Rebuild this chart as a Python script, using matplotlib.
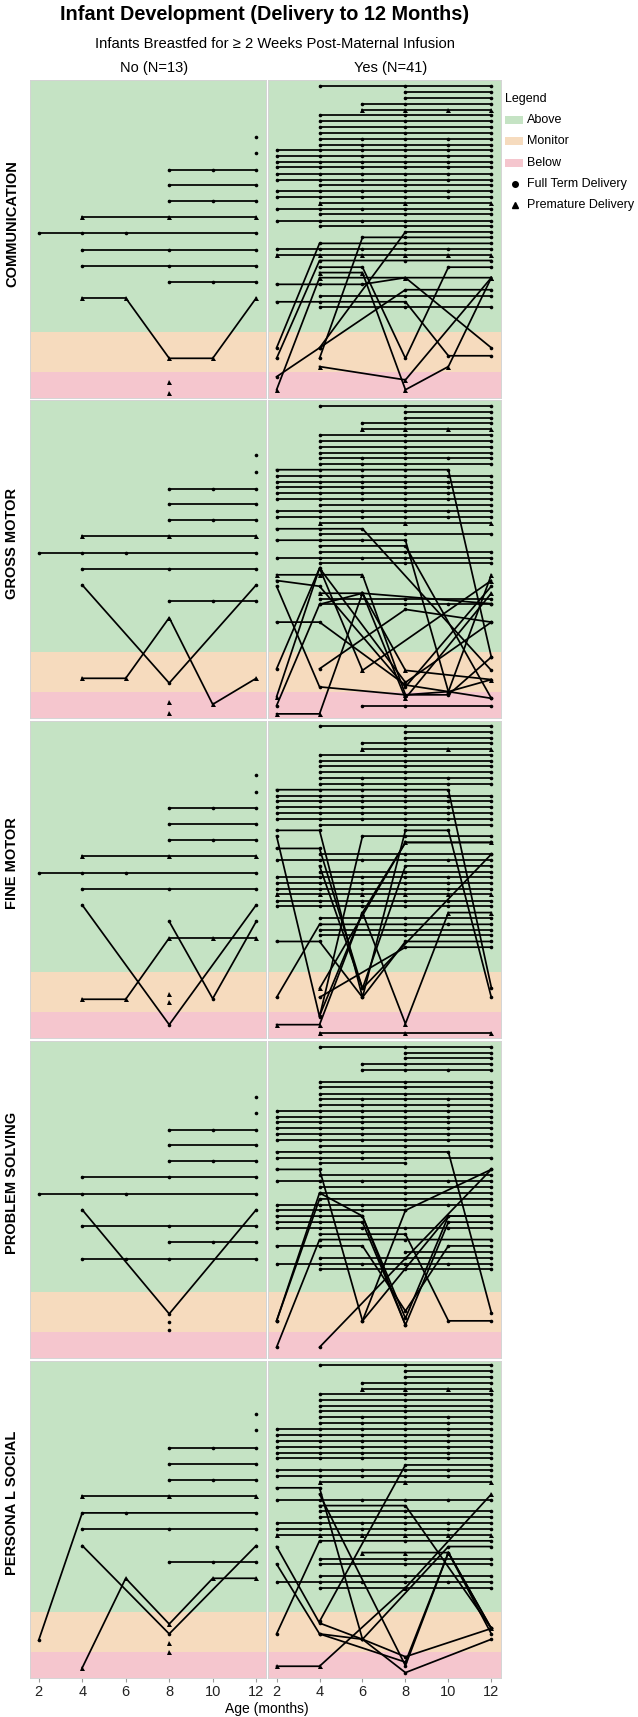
import matplotlib
matplotlib.use("Agg")
import matplotlib.pyplot as plt
from matplotlib.patches import Rectangle
from matplotlib.lines import Line2D

plt.rcParams["font.family"] = ["Liberation Sans", "DejaVu Sans"]

# ---- data -------------------------------------------------------------
MONTHS = [2, 4, 6, 8, 10, 12]
DOMAINS = ["COMMUNICATION", "GROSS MOTOR", "FINE MOTOR", "PROBLEM SOLVING", "PERSONA L SOCIAL"]
GROUPS = ["No (N=13)", "Yes (N=41)"]

BAND_NAMES = ["Above", "Monitor", "Below"]
BAND_LOW = [20.7, 8.3, 0.0]
BAND_HIGH = [100.0, 20.7, 8.3]
BAND_COLORS = ["#c5e3c4", "#f6dbbe", "#f5c6ce"]

# each infant: (delivery marker, months assessed, score position)
COMM_NO = [
    ("o", [12], [82.3]),
    ("o", [12], [77.2]),
    ("o", [8, 10, 12], [71.9, 71.9, 71.9]),
    ("o", [8, 12], [67.2, 67.2]),
    ("o", [8, 10, 12], [62.0, 62.0, 62.0]),
    ("^", [4, 8, 12], [56.9, 56.9, 56.9]),
    ("o", [2, 4, 6, 12], [51.9, 51.9, 51.9, 51.9]),
    ("o", [4, 8, 12], [46.7, 46.7, 46.7]),
    ("o", [4, 8, 12], [41.6, 41.6, 41.6]),
    ("o", [8, 10, 12], [36.6, 36.6, 36.6]),
    ("^", [4, 6, 8, 10, 12], [31.5, 31.5, 12.5, 12.5, 31.5]),
    ("^", [8], [5.0]),
    ("^", [8], [1.6]),
]
GROSS_NO = [
    ("o", [12], [82.7]),
    ("o", [12], [77.5]),
    ("o", [8, 10, 12], [72.1, 72.1, 72.1]),
    ("o", [8, 12], [67.4, 67.4]),
    ("o", [8, 10, 12], [62.3, 62.3, 62.3]),
    ("^", [4, 8, 12], [57.2, 57.2, 57.2]),
    ("o", [2, 4, 6, 12], [52.1, 52.1, 52.1, 52.1]),
    ("o", [4, 8, 12], [47.0, 47.0, 47.0]),
    ("o", [4, 8, 12], [41.9, 11.0, 41.9]),
    ("o", [8, 10, 12], [36.8, 36.8, 36.8]),
    ("^", [4, 6, 8, 10, 12], [12.5, 12.5, 31.6, 4.3, 12.5]),
    ("^", [8], [4.9]),
    ("^", [8], [1.7]),
]
FINE_NO = [
    ("o", [12], [82.8]),
    ("o", [12], [77.6]),
    ("o", [8, 10, 12], [72.3, 72.3, 72.3]),
    ("o", [8, 12], [67.4, 67.4]),
    ("o", [8, 10, 12], [62.3, 62.3, 62.3]),
    ("^", [4, 8, 12], [57.2, 57.2, 57.2]),
    ("o", [2, 4, 6, 12], [52.0, 52.0, 52.0, 52.0]),
    ("o", [4, 8, 12], [46.9, 46.9, 46.9]),
    ("o", [4, 8, 12], [41.9, 4.2, 41.9]),
    ("o", [8, 10, 12], [36.7, 12.4, 36.7]),
    ("^", [4, 6, 8, 10, 12], [12.2, 12.2, 31.5, 31.5, 31.5]),
    ("^", [8], [13.9]),
    ("^", [8], [11.4]),
]
PROB_NO = [
    ("o", [12], [82.3]),
    ("o", [12], [77.2]),
    ("o", [8, 10, 12], [71.9, 71.9, 71.9]),
    ("o", [8, 12], [67.0, 67.0]),
    ("o", [8, 10, 12], [61.9, 61.9, 61.9]),
    ("o", [4, 8, 12], [56.9, 56.9, 56.9]),
    ("o", [2, 4, 6, 12], [51.7, 51.7, 51.7, 51.7]),
    ("o", [4, 8, 12], [46.7, 13.9, 46.7]),
    ("o", [4, 8, 12], [41.5, 41.5, 41.5]),
    ("o", [8, 10, 12], [36.4, 36.4, 36.4]),
    ("o", [4, 6, 8, 12], [31.2, 31.2, 31.2, 31.2]),
    ("o", [8], [11.4]),
    ("o", [8], [8.8]),
]
PERS_NO = [
    ("o", [12], [83.3]),
    ("o", [12], [78.0]),
    ("o", [8, 10, 12], [72.5, 72.5, 72.5]),
    ("o", [8, 12], [67.5, 67.5]),
    ("o", [8, 10, 12], [62.3, 62.3, 62.3]),
    ("^", [4, 8, 12], [57.3, 57.3, 57.3]),
    ("o", [2, 4, 6, 12], [11.9, 52.0, 52.0, 52.0]),
    ("o", [4, 8, 12], [46.9, 46.9, 46.9]),
    ("o", [4, 8, 12], [41.7, 13.9, 41.7]),
    ("o", [8, 10, 12], [36.4, 36.4, 36.4]),
    ("^", [4, 6, 8, 10, 12], [3.2, 31.4, 17.0, 31.4, 31.4]),
    ("^", [8], [11.0]),
    ("^", [8], [8.2]),
]

COMM_YES = [
    ("o", [4, 8, 12], [98.3, 98.3, 98.3]),
    ("o", [8, 12], [96.3, 96.3]),
    ("o", [8, 12], [94.4, 94.4]),
    ("o", [6, 8, 12], [92.6, 92.6, 92.6]),
    ("^", [6, 8, 10, 12], [90.8, 90.8, 90.8, 90.8]),
    ("o", [4, 8, 12], [89.0, 89.0, 89.0]),
    ("o", [4, 8, 12], [87.1, 87.1, 87.1]),
    ("o", [4, 8, 12], [85.3, 85.3, 85.3]),
    ("o", [4, 8, 12], [83.4, 83.4, 83.4]),
    ("o", [4, 6, 8, 10, 12], [81.6, 81.6, 81.6, 81.6, 81.6]),
    ("o", [4, 6, 8, 10, 12], [79.8, 79.8, 79.8, 79.8, 79.8]),
    ("o", [2, 4, 6, 8, 10, 12], [78.1, 78.1, 78.1, 78.1, 78.1, 78.1]),
    ("o", [2, 4, 6, 8, 10, 12], [76.2, 76.2, 76.2, 76.2, 76.2, 76.2]),
    ("o", [2, 4, 6, 8, 10, 12], [74.4, 74.4, 74.4, 74.4, 74.4, 74.4]),
    ("o", [2, 4, 6, 8, 10, 12], [72.6, 72.6, 72.6, 72.6, 72.6, 72.6]),
    ("o", [2, 4, 6, 8, 10, 12], [70.7, 70.7, 70.7, 70.7, 70.7, 70.7]),
    ("o", [2, 4, 6, 8, 10, 12], [68.8, 68.8, 68.8, 68.8, 68.8, 68.8]),
    ("o", [4, 8, 12], [67.0, 67.0, 67.0]),
    ("o", [2, 4, 6, 8, 10, 12], [65.1, 65.1, 65.1, 65.1, 65.1, 65.1]),
    ("o", [2, 4, 6, 8, 10, 12], [63.3, 63.3, 63.3, 63.3, 63.3, 63.3]),
    ("^", [4, 8, 12], [61.5, 61.5, 61.5]),
    ("o", [2, 4, 6, 8, 12], [59.6, 59.6, 59.6, 59.6, 59.6]),
    ("o", [4, 8, 12], [57.8, 57.8, 57.8]),
    ("o", [2, 4, 6, 8, 12], [55.9, 55.9, 55.9, 55.9, 55.9]),
    ("o", [4, 8, 12], [54.1, 54.1, 54.1]),
    ("o", [4, 8, 12], [15.8, 52.3, 52.3]),
    ("o", [4, 6, 8, 12], [12.5, 50.6, 50.6, 50.6]),
    ("o", [2, 4, 8, 12], [15.8, 48.7, 48.7, 48.7]),
    ("o", [2, 4, 6, 8, 10, 12], [46.9, 46.9, 46.9, 46.9, 46.9, 46.9]),
    ("^", [2, 4, 6, 8, 10, 12], [45.1, 45.1, 45.1, 45.1, 45.1, 45.1]),
    ("o", [2, 4, 8, 12], [12.5, 43.3, 43.3, 43.3]),
    ("o", [4, 6, 8, 10, 12], [41.2, 41.2, 12.5, 41.2, 41.2]),
    ("^", [4, 6, 8, 10, 12], [39.5, 39.5, 2.6, 9.9, 37.9]),
    ("o", [2, 4, 6, 8, 12], [35.8, 35.8, 35.8, 37.9, 15.8]),
    ("o", [4, 8, 12], [32.2, 32.2, 32.2]),
    ("o", [2, 4, 8, 10, 12], [30.3, 30.3, 30.3, 13.3, 13.3]),
    ("o", [4, 8, 12], [28.6, 28.6, 28.6]),
    ("o", [2, 4, 8, 12], [6.7, 15.8, 34.1, 34.1]),
    ("^", [2, 4, 8, 12], [2.6, 37.9, 37.9, 37.9]),
    ("^", [4, 8, 12], [9.9, 5.7, 37.9]),
]
GROSS_YES = [
    ("o", [4, 8, 12], [98.4, 98.4, 98.4]),
    ("o", [8, 12], [96.4, 96.4]),
    ("o", [8, 12], [94.6, 94.6]),
    ("o", [6, 8, 12], [93.0, 93.0, 93.0]),
    ("^", [6, 8, 10, 12], [90.9, 90.9, 90.9, 90.9]),
    ("o", [4, 8, 12], [89.1, 89.1, 89.1]),
    ("o", [4, 8, 12], [87.4, 87.4, 87.4]),
    ("o", [4, 8, 12], [85.5, 85.5, 85.5]),
    ("o", [4, 8, 12], [83.6, 83.6, 83.6]),
    ("o", [4, 6, 8, 10, 12], [81.8, 81.8, 81.8, 81.8, 81.8]),
    ("o", [4, 6, 8, 12], [80.0, 80.0, 80.0, 80.0]),
    ("o", [2, 4, 6, 8, 10, 12], [78.2, 78.2, 78.2, 78.2, 78.2, 19.2]),
    ("o", [2, 4, 6, 8, 10, 12], [76.2, 76.2, 76.2, 76.2, 76.2, 76.2]),
    ("o", [2, 4, 6, 8, 10, 12], [74.4, 74.4, 74.4, 74.4, 74.4, 74.4]),
    ("o", [2, 4, 6, 8, 10, 12], [72.7, 72.7, 72.7, 72.7, 72.7, 72.7]),
    ("o", [2, 4, 6, 8, 10, 12], [70.8, 70.8, 70.8, 70.8, 70.8, 70.8]),
    ("o", [2, 4, 6, 8, 10, 12], [68.9, 68.9, 68.9, 68.9, 68.9, 68.9]),
    ("o", [4, 8, 12], [67.0, 67.0, 67.0]),
    ("o", [2, 4, 6, 8, 10, 12], [65.3, 65.3, 65.3, 65.3, 65.3, 65.3]),
    ("o", [2, 4, 6, 8, 10, 12], [63.4, 63.4, 63.4, 63.4, 63.4, 63.4]),
    ("^", [4, 8, 12], [61.5, 61.5, 61.5]),
    ("o", [2, 4, 6, 12], [59.6, 59.6, 59.6, 15.0]),
    ("o", [4, 8, 12], [57.8, 57.8, 57.8]),
    ("o", [2, 4, 6, 8, 10, 12], [56.0, 56.0, 56.0, 56.0, 8.3, 12.1]),
    ("o", [4, 8, 12], [54.2, 54.2, 6.2]),
    ("o", [4, 8, 12], [52.3, 52.3, 52.3]),
    ("o", [2, 4, 6, 8, 12], [50.5, 50.5, 50.5, 50.5, 50.5]),
    ("o", [4, 8, 12], [48.7, 48.7, 48.7]),
    ("^", [2, 4, 6, 8, 10, 12], [45.1, 45.1, 45.1, 7.3, 8.3, 45.1]),
    ("o", [2, 4, 8, 12], [43.3, 41.5, 9.8, 41.5]),
    ("o", [2, 4, 8, 10, 12], [41.5, 9.8, 7.3, 7.3, 19.2]),
    ("^", [4, 6, 8, 12], [39.3, 39.3, 6.2, 39.3]),
    ("o", [4, 8, 12], [37.6, 37.6, 37.6]),
    ("o", [4, 8, 10, 12], [35.8, 35.8, 35.8, 35.8]),
    ("o", [2, 4, 8, 12], [30.2, 30.2, 10.4, 6.2]),
    ("o", [2, 4, 8, 12], [15.5, 47.2, 11.2, 30.2]),
    ("^", [2, 4, 6, 12], [6.7, 47.2, 15.0, 43.3]),
    ("o", [2, 4, 6, 12], [3.9, 35.8, 39.3, 36.0]),
    ("^", [2, 4, 6, 8, 12], [1.3, 1.3, 39.3, 15.0, 12.1]),
    ("o", [4, 8, 12], [15.5, 34.2, 30.2]),
    ("o", [6, 8, 12], [3.8, 3.8, 3.8]),
]
FINE_YES = [
    ("o", [4, 8, 12], [98.3, 98.3, 98.3]),
    ("o", [8, 12], [96.4, 96.4]),
    ("o", [8, 12], [94.6, 94.6]),
    ("o", [6, 8, 12], [92.8, 92.8, 92.8]),
    ("^", [6, 8, 10, 12], [90.9, 90.9, 90.9, 90.9]),
    ("o", [4, 8, 12], [89.2, 89.2, 89.2]),
    ("o", [4, 8, 12], [87.3, 87.3, 87.3]),
    ("o", [4, 8, 12], [85.6, 85.6, 85.6]),
    ("o", [4, 8, 12], [83.7, 83.7, 83.7]),
    ("o", [4, 6, 8, 10, 12], [81.8, 81.8, 81.8, 81.8, 81.8]),
    ("o", [4, 6, 8, 10, 12], [80.1, 80.1, 80.1, 80.1, 80.1]),
    ("o", [2, 4, 6, 8, 10, 12], [78.2, 78.2, 78.2, 78.2, 78.2, 15.9]),
    ("o", [2, 4, 6, 8, 10, 12], [76.3, 76.3, 76.3, 76.3, 76.3, 76.3]),
    ("o", [2, 4, 6, 8, 10, 12], [74.5, 74.5, 74.5, 74.5, 74.5, 74.5]),
    ("o", [2, 4, 6, 8, 10, 12], [72.7, 72.7, 72.7, 72.7, 72.7, 72.7]),
    ("o", [2, 4, 6, 8, 10, 12], [70.8, 70.8, 70.8, 70.8, 70.8, 70.8]),
    ("o", [2, 4, 6, 8, 10, 12], [69.0, 69.0, 69.0, 69.0, 69.0, 69.0]),
    ("o", [4, 8, 12], [67.2, 67.2, 67.2]),
    ("o", [2, 4, 6, 8, 10, 12], [65.4, 65.4, 12.8, 65.4, 65.4, 12.8]),
    ("o", [2, 4, 6, 8, 12], [63.6, 6.7, 63.6, 63.6, 63.6]),
    ("^", [4, 8, 12], [15.6, 61.6, 61.6]),
    ("o", [2, 4, 6, 12], [59.7, 59.7, 15.6, 57.9]),
    ("o", [4, 8, 12], [57.9, 57.9, 57.9]),
    ("o", [2, 4, 6, 8, 10, 12], [56.1, 56.1, 56.1, 56.1, 56.1, 56.1]),
    ("o", [4, 6, 8, 12], [54.2, 15.6, 54.2, 54.2]),
    ("o", [4, 8, 12], [52.4, 52.4, 52.4]),
    ("o", [2, 4, 6, 8, 10, 12], [50.7, 50.7, 50.7, 50.7, 50.7, 50.7]),
    ("o", [2, 4, 6, 8, 10, 12], [48.8, 48.8, 48.8, 48.8, 48.8, 48.8]),
    ("o", [2, 4, 6, 8, 10, 12], [46.9, 46.9, 46.9, 46.9, 46.9, 46.9]),
    ("^", [2, 4, 6, 8, 10, 12], [45.2, 45.2, 45.2, 45.2, 45.2, 45.2]),
    ("o", [2, 4, 6, 8, 10, 12], [43.3, 43.3, 43.3, 43.3, 43.3, 43.3]),
    ("o", [2, 4, 6, 8, 10, 12], [41.5, 41.5, 41.5, 41.5, 41.5, 41.5]),
    ("o", [4, 8, 12], [37.7, 37.7, 37.7]),
    ("o", [4, 8, 12], [34.1, 34.1, 34.1]),
    ("o", [4, 8, 12], [32.3, 32.3, 32.3]),
    ("o", [2, 4, 6, 8, 12], [30.4, 30.4, 12.8, 30.4, 30.4]),
    ("o", [4, 8, 12], [12.8, 28.6, 28.6]),
    ("o", [2, 4, 8, 10, 12], [12.8, 35.8, 35.8, 35.8, 35.8]),
    ("^", [2, 4, 6, 8, 10, 12], [4.2, 4.2, 39.5, 4.5, 39.5, 39.5]),
    ("^", [4, 8, 12], [1.6, 1.6, 1.6]),
    ("o", [4, 6, 8, 12], [7.0, 39.5, 61.6, 61.6]),
]
PROB_YES = [
    ("o", [4, 8, 12], [98.1, 98.1, 98.1]),
    ("o", [8, 12], [96.2, 96.2]),
    ("o", [8, 12], [94.4, 94.4]),
    ("o", [6, 8, 12], [92.6, 92.6, 92.6]),
    ("o", [6, 8, 10, 12], [90.7, 90.7, 90.7, 90.7]),
    ("o", [4, 8, 12], [87.0, 87.0, 87.0]),
    ("o", [4, 8, 12], [85.2, 85.2, 85.2]),
    ("o", [4, 8, 12], [83.3, 83.3, 83.3]),
    ("o", [4, 6, 8, 10, 12], [81.5, 81.5, 81.5, 81.5, 81.5]),
    ("o", [4, 6, 8, 10, 12], [79.6, 79.6, 79.6, 79.6, 79.6]),
    ("o", [2, 4, 6, 8, 10, 12], [77.9, 77.9, 77.9, 77.9, 77.9, 77.9]),
    ("o", [2, 4, 6, 8, 10, 12], [76.0, 76.0, 76.0, 76.0, 76.0, 76.0]),
    ("o", [2, 4, 6, 8, 10, 12], [74.2, 74.2, 74.2, 74.2, 74.2, 74.2]),
    ("o", [2, 4, 6, 8, 10, 12], [72.3, 72.3, 72.3, 72.3, 72.3, 72.3]),
    ("o", [2, 4, 6, 8, 10, 12], [70.5, 70.5, 70.5, 70.5, 70.5, 70.5]),
    ("o", [2, 4, 6, 8, 10, 12], [68.6, 68.6, 68.6, 68.6, 68.6, 68.6]),
    ("o", [4, 8, 12], [66.7, 66.7, 66.7]),
    ("o", [2, 4, 6, 8, 10, 12], [64.9, 64.9, 64.9, 64.9, 64.9, 14.3]),
    ("o", [2, 4, 6, 8, 12], [63.0, 63.0, 63.0, 63.0, 63.0]),
    ("o", [4, 8], [61.3, 61.3]),
    ("o", [2, 4, 6, 10, 12], [59.4, 59.4, 11.7, 44.7, 44.7]),
    ("o", [4, 8, 12], [57.6, 57.6, 57.6]),
    ("o", [2, 4, 6, 8, 10, 12], [55.7, 55.7, 55.7, 55.7, 55.7, 55.7]),
    ("o", [4, 8, 12], [53.9, 53.9, 53.9]),
    ("o", [4, 8, 12], [52.0, 52.0, 52.0]),
    ("o", [2, 4, 8, 12], [11.7, 50.1, 50.1, 50.1]),
    ("o", [2, 4, 6, 8, 10, 12], [48.3, 48.3, 48.3, 48.3, 48.3, 48.3]),
    ("o", [2, 4, 6, 8], [46.5, 46.5, 46.5, 46.5]),
    ("o", [2, 4, 6, 8, 10, 12], [44.7, 44.7, 44.7, 12.5, 44.7, 44.7]),
    ("o", [2, 4, 6, 8, 10, 12], [42.8, 42.8, 42.8, 10.4, 42.8, 42.8]),
    ("o", [2, 4, 6, 8, 10, 12], [40.9, 40.9, 40.9, 40.9, 40.9, 40.9]),
    ("o", [4, 8, 10, 12], [39.0, 39.0, 11.7, 11.7]),
    ("o", [2, 4, 8, 12], [3.4, 37.3, 37.3, 37.3]),
    ("o", [2, 4, 6, 8, 10, 12], [35.3, 35.3, 35.3, 14.8, 35.3, 35.3]),
    ("o", [8, 12], [33.4, 33.4]),
    ("o", [4, 8, 12], [31.5, 31.5, 31.5]),
    ("o", [2, 4, 6, 8, 10, 12], [29.7, 29.7, 29.7, 29.7, 29.7, 29.7]),
    ("o", [4, 8, 12], [28.0, 28.0, 28.0]),
    ("o", [4, 12], [3.4, 59.4]),
    ("o", [2, 4, 6, 8], [11.7, 52.0, 44.7, 10.4]),
    ("o", [6, 8, 12], [11.7, 46.5, 59.4]),
]
PERS_YES = [
    ("o", [4, 8, 12], [98.6, 98.6, 98.6]),
    ("o", [8, 12], [96.6, 96.6]),
    ("o", [8, 12], [94.8, 94.8]),
    ("o", [6, 8, 12], [93.0, 93.0, 93.0]),
    ("^", [6, 8, 10, 12], [91.1, 91.1, 91.1, 91.1]),
    ("o", [4, 8, 12], [89.4, 89.4, 89.4]),
    ("o", [4, 8, 12], [87.6, 87.6, 87.6]),
    ("o", [4, 8, 12], [85.8, 85.8, 85.8]),
    ("o", [4, 8, 12], [84.0, 84.0, 84.0]),
    ("o", [4, 6, 8, 10, 12], [82.1, 82.1, 82.1, 82.1, 82.1]),
    ("o", [4, 6, 8, 10, 12], [80.3, 80.3, 80.3, 80.3, 80.3]),
    ("o", [2, 4, 6, 8, 10, 12], [78.5, 78.5, 78.5, 78.5, 78.5, 78.5]),
    ("o", [2, 4, 6, 8, 10, 12], [76.6, 76.6, 76.6, 76.6, 76.6, 76.6]),
    ("o", [2, 4, 6, 8, 10, 12], [74.8, 74.8, 74.8, 74.8, 74.8, 74.8]),
    ("o", [2, 4, 6, 8, 10, 12], [72.9, 72.9, 72.9, 72.9, 72.9, 72.9]),
    ("o", [2, 4, 6, 8, 10, 12], [71.0, 71.0, 71.0, 71.0, 71.0, 71.0]),
    ("o", [2, 4, 6, 8, 10, 12], [69.3, 69.3, 69.3, 69.3, 69.3, 69.3]),
    ("o", [4, 8, 12], [17.8, 67.1, 67.1]),
    ("o", [2, 4, 6, 8, 10, 12], [65.5, 65.5, 65.5, 65.5, 65.5, 65.5]),
    ("o", [2, 4, 6, 8, 10, 12], [63.7, 63.7, 63.7, 63.7, 63.7, 63.7]),
    ("^", [4, 8, 12], [61.8, 61.8, 61.8]),
    ("o", [2, 4, 6, 10, 12], [59.9, 59.9, 12.2, 41.4, 41.4]),
    ("o", [4, 8, 10, 12], [57.9, 3.9, 39.5, 15.6]),
    ("o", [2, 4, 6, 8, 10, 12], [56.1, 56.1, 56.1, 56.1, 56.1, 56.1]),
    ("o", [4, 8, 12], [54.3, 54.3, 15.6]),
    ("o", [4, 8, 12], [52.6, 52.6, 52.6]),
    ("o", [4, 8, 12], [50.7, 50.7, 50.7]),
    ("o", [2, 4, 6, 8, 10, 12], [48.8, 48.8, 48.8, 48.8, 48.8, 48.8]),
    ("o", [2, 4, 6, 8, 10, 12], [47.0, 47.0, 47.0, 47.0, 47.0, 47.0]),
    ("^", [2, 4, 6, 8, 10, 12], [45.1, 45.1, 45.1, 45.1, 45.1, 45.1]),
    ("o", [2, 4, 8, 12], [13.9, 43.2, 43.2, 43.2]),
    ("^", [6, 8, 10, 12], [39.5, 39.5, 39.5, 15.6]),
    ("o", [4, 8, 12], [37.6, 37.6, 37.6]),
    ("o", [4, 8, 12], [35.9, 35.9, 35.9]),
    ("o", [4, 8, 12], [32.1, 32.1, 32.1]),
    ("o", [2, 4, 6, 8, 10, 12], [30.3, 30.3, 30.3, 30.3, 30.3, 30.3]),
    ("o", [4, 8, 12], [28.4, 28.4, 28.4]),
    ("o", [2, 4, 6, 8, 12], [41.4, 17.3, 12.2, 6.7, 15.6]),
    ("o", [2, 4, 8, 10, 12], [35.9, 13.9, 5.0, 39.5, 13.9]),
    ("^", [2, 4, 8, 12], [3.7, 3.7, 28.4, 57.9]),
    ("o", [4, 6, 8, 12], [13.9, 12.2, 1.7, 12.2]),
]

PANELS = [
    (COMM_NO, COMM_YES),
    (GROSS_NO, GROSS_YES),
    (FINE_NO, FINE_YES),
    (PROB_NO, PROB_YES),
    (PERS_NO, PERS_YES),
]

# ---- layout (pixels) ----------------------------------------------------
W, H = 638, 1717
PANEL_X = [(30, 266), (268, 501)]
TOP, ROW_H, GAP = 80.5, 317.5, 2.5


def fx(x):
    return x / W


def fy(y):
    return 1 - y / H


fig = plt.figure(figsize=(W / 100, H / 100), dpi=100)

for r, (domain, pair) in enumerate(zip(DOMAINS, PANELS)):
    y0 = TOP + r * (ROW_H + GAP)
    for c, series in enumerate(pair):
        x0, x1 = PANEL_X[c]
        ax = fig.add_axes([fx(x0), fy(y0 + ROW_H), (x1 - x0) / W, ROW_H / H])
        ax.set_xlim(1.6, 12.45)
        ax.set_ylim(0, 100)
        for lo, hi, col in zip(BAND_LOW, BAND_HIGH, BAND_COLORS):
            ax.axhspan(lo, hi, color=col, lw=0, zorder=0)
        for mk, months, vals in series:
            ax.plot(months, vals, color="black", lw=1.25, marker=mk,
                    ms=3.6 if mk == "^" else 2.6, mew=0, clip_on=False, zorder=3)
        for s in ax.spines.values():
            s.set_color("#d4d4d4")
            s.set_linewidth(0.7)
        ax.set_yticks([])
        ax.set_xticks(MONTHS)
        if r == len(DOMAINS) - 1:
            ax.tick_params(axis="x", length=3, color="#9a9a9a", labelsize=10.5,
                           labelcolor="#222222", pad=2)
        else:
            ax.tick_params(axis="x", length=0, labelbottom=False)
    fig.text(fx(12), fy(y0 + ROW_H / 2 - 16), domain, rotation=90, fontsize=10.5,
             fontweight="bold", ha="center", va="center")

# titles
fig.text(fx(265), fy(15), "Infant Development (Delivery to 12 Months)",
         fontsize=14.3, fontweight="bold", ha="center", va="center")
fig.text(fx(275), fy(44), "Infants Breastfed for \u2265 2 Weeks Post-Maternal Infusion",
         fontsize=10.6, ha="center", va="center")
for (x0, x1), g in zip(PANEL_X, GROUPS):
    fig.text(fx((x0 + x1) / 2 + 6), fy(68), g, fontsize=10.5, ha="center", va="center")
fig.text(fx(267), fy(1709), "Age (months)", fontsize=10, ha="center", va="center")

# legend
fig.text(fx(505), fy(99), "Legend", fontsize=9, ha="left", va="center")
for i, (name, col) in enumerate(zip(BAND_NAMES, BAND_COLORS)):
    yy = 120 + i * 21.5
    fig.patches.append(Rectangle((fx(505), fy(yy + 4)), 18 / W, 8 / H,
                                 transform=fig.transFigure, color=col, lw=0))
    fig.text(fx(527), fy(yy), name, fontsize=9, ha="left", va="center")
for i, (mk, name) in enumerate([("o", "Full Term Delivery"), ("^", "Premature Delivery")]):
    yy = 184 + i * 21
    fig.add_artist(Line2D([fx(515)], [fy(yy)], marker=mk, color="black", lw=0,
                          ms=4 if mk == "o" else 5, transform=fig.transFigure))
    fig.text(fx(527), fy(yy), name, fontsize=9, ha="left", va="center")

fig.savefig("out.png", dpi=100)
